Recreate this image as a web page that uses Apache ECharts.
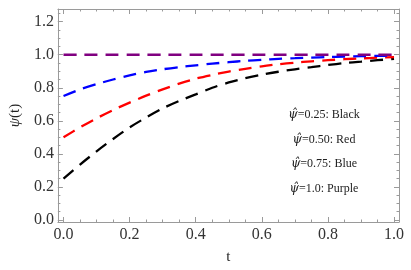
<!DOCTYPE html>
<html><head><meta charset="utf-8">
<script src="https://cdn.jsdelivr.net/npm/echarts@6/dist/echarts.min.js"></script>
<style>html,body{margin:0;padding:0;background:#fff}#c{width:411px;height:270px}</style>
</head><body><div id="c"></div>
<script>
const tValues    = [0, 0.05, 0.1, 0.15, 0.2, 0.25, 0.3, 0.35, 0.4, 0.45, 0.5, 0.55, 0.6, 0.65, 0.7, 0.75, 0.8, 0.85, 0.9, 0.95, 1.0];
const blackVals  = [0.25, 0.335, 0.415, 0.49, 0.56, 0.62, 0.675, 0.72, 0.76, 0.80, 0.832, 0.858, 0.879, 0.897, 0.912, 0.925, 0.938, 0.949, 0.958, 0.967, 0.975];
const redVals    = [0.50, 0.56, 0.615, 0.665, 0.71, 0.752, 0.79, 0.825, 0.855, 0.878, 0.898, 0.915, 0.93, 0.942, 0.952, 0.96, 0.967, 0.973, 0.978, 0.982, 0.986];
const blueVals   = [0.75, 0.79, 0.822, 0.85, 0.875, 0.896, 0.912, 0.925, 0.936, 0.946, 0.955, 0.963, 0.969, 0.975, 0.979, 0.983, 0.986, 0.989, 0.991, 0.993, 0.995];
const purpleVals = [1, 1, 1, 1, 1, 1, 1, 1, 1, 1, 1, 1, 1, 1, 1, 1, 1, 1, 1, 1, 1];
const xMajor = [0, 0.2, 0.4, 0.6, 0.8, 1.0];
const yMajor = [0, 0.2, 0.4, 0.6, 0.8, 1.0, 1.2];
const xMinor = [0,0.05,0.1,0.15,0.2,0.25,0.3,0.35,0.4,0.45,0.5,0.55,0.6,0.65,0.7,0.75,0.8,0.85,0.9,0.95,1.0];
const yMinor = [0,0.05,0.1,0.15,0.2,0.25,0.3,0.35,0.4,0.45,0.5,0.55,0.6,0.65,0.7,0.75,0.8,0.85,0.9,0.95,1.0,1.05,1.1,1.15,1.2,1.25];
const annoPsi = 'ψ̂';
const annoRest = ['=0.25: Black', '=0.50: Red', '=0.75: Blue', '=1.0: Purple'];

const serif = 'Liberation Serif, DejaVu Serif, serif';
const frame = '#9a9a9a';
const xr = {min: -0.017, max: 1.015};
const yr = {min: -0.013, max: 1.277};

function mkX(pos, major, withLabel) {
  return Object.assign({
    type: 'value', position: pos, ...xr,
    axisLine: {show: major, onZero: false, lineStyle: {color: frame, width: 1}},
    axisTick: {show: true, inside: true, length: major ? 5 : 2.5, customValues: major ? xMajor : xMinor, lineStyle: {color: frame}},
    axisLabel: withLabel ? {show: true, customValues: xMajor, formatter: v => v.toFixed(1), fontFamily: serif, fontSize: 16, color: '#333', margin: 5} : {show: false},
    splitLine: {show: false}
  }, withLabel ? {name: 't', nameLocation: 'middle', nameGap: 28, nameTextStyle: {fontFamily: serif, fontSize: 15, color: '#222'}} : {});
}
function mkY(pos, major, withLabel) {
  return Object.assign({
    type: 'value', position: pos, ...yr,
    axisLine: {show: major, onZero: false, lineStyle: {color: frame, width: 1}},
    axisTick: {show: true, inside: true, length: major ? 5 : 2.5, customValues: major ? yMajor : yMinor, lineStyle: {color: frame}},
    axisLabel: withLabel ? {show: true, customValues: yMajor, formatter: v => v.toFixed(1), fontFamily: serif, fontSize: 16, color: '#333', margin: 4} : {show: false},
    splitLine: {show: false}
  }, withLabel ? {name: '{i|ψ}(t)', nameLocation: 'middle', nameGap: 33, nameRotate: 90,
      nameTextStyle: {fontFamily: serif, fontSize: 15, color: '#222', rich: {i: {fontFamily: serif, fontSize: 15, fontStyle: 'italic', color: '#222'}}}} : {});
}

function line(vals, color, width) {
  return {
    type: 'line', data: tValues.map((t, i) => [t, vals[i]]), smooth: 0.3, showSymbol: false,
    lineStyle: {color: color, width: width, type: [13, 8]}, xAxisIndex: 0, yAxisIndex: 0, animation: false
  };
}

const chart = echarts.init(document.getElementById('c'), null, {renderer: 'canvas'});
chart.setOption({
  animation: false,
  grid: {left: 49, right: 12, top: 9, bottom: 46, containLabel: false},
  xAxis: [mkX('bottom', true, true), mkX('bottom', false, false), mkX('top', true, false), mkX('top', false, false)],
  yAxis: [mkY('left', true, true), mkY('left', false, false), mkY('right', true, false), mkY('right', false, false)],
  series: [
    line(blackVals, '#000000', 2.3),
    line(redVals, '#ff0000', 2.3),
    line(blueVals, '#0000ff', 2.3),
    line(purpleVals, '#800080', 2.7)
  ],
  graphic: annoRest.map((txt, i) => ({
    type: 'text', x: 324, y: 115 + i * 24.5,
    style: {
      text: '{p|' + annoPsi + '}' + txt,
      fontFamily: serif, fontSize: 12, fill: '#222', align: 'center', verticalAlign: 'middle',
      rich: {p: {fontFamily: 'DejaVu Serif', fontStyle: 'italic', fontSize: 12, fill: '#222'}}
    }
  }))
});
</script></body></html>
